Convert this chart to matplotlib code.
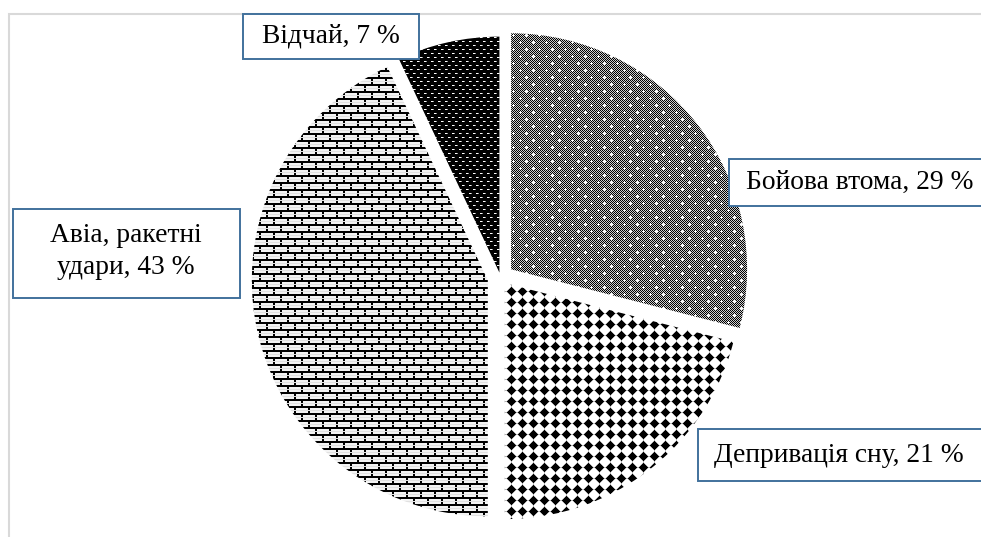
import numpy as np
import matplotlib

matplotlib.use("Agg")
import matplotlib.pyplot as plt
from matplotlib.patches import Rectangle

W, H = 981, 537

# Причини стресу, частка відповідей (%)
labels = ["Бойова втома", "Депривація сну", "Авіа, ракетні\nудари", "Відчай"]
values = [29, 21, 43, 7]
# pie() shifts each slice by this many data units (= pixels here)
explode = [13.4, 7.1, 13.0, 5.0]

# label boxes in pixel coordinates from the top-left: (x0, y0, x1, y1)
boxes = [
    (728, 159, 990, 206),
    (697, 429, 990, 481),
    (12, 209, 239, 298),
    (242, 14, 418, 59),
]
text_pos = [
    (745, 183, "left"),
    (714, 456, "left"),
    (125, 252, "center"),
    (330, 37, "center"),
]


def texture_gray_dots():
    y, x = np.mgrid[0:H, 0:W]
    img = np.where((x + y) % 2 == 0, 0.0, 0.8)
    on = (((y % 14) == 0) & ((x % 13) == 0)) | (((y % 14) == 7) & ((x % 13) == 6))
    img[on] = 1.0
    for dy, dx in [(0, 1), (0, -1), (1, 0), (-1, 0)]:
        img[np.roll(np.roll(on, dy, axis=0), dx, axis=1)] = 1.0
    return img


def texture_diamonds():
    y, x = np.mgrid[0:H, 0:W]
    p = 11
    dx = np.abs((x % p) - p // 2)
    dy = np.abs((y % p) - p // 2)
    d = dx + dy
    img = np.ones((H, W))
    img[d <= 4] = 0.0
    img[d == 5] = 0.7
    return img


def texture_bricks():
    y, x = np.mgrid[0:H, 0:W]
    img = np.full((H, W), 0.95)
    row = y // 7
    img[(y % 7) < 2] = 0.0
    shift = np.where(row % 2 == 0, 0, 7)
    img[((x + shift) % 14) < 2] = 0.0
    img[(y % 7) == 4] = 0.88
    return img


def texture_dark_dashes():
    y, x = np.mgrid[0:H, 0:W]
    img = np.zeros((H, W))
    shift = np.where((y // 4) % 2 == 0, 0, 3)
    col = (x + shift) % 7
    img[((y % 4) == 1) & (col < 2)] = 1.0
    img[((y % 4) == 1) & (col == 2)] = 0.6
    return img


textures = [texture_gray_dots(), texture_diamonds(), texture_bricks(), texture_dark_dashes()]

fig = plt.figure(figsize=(W / 100, H / 100), dpi=100)
ax = fig.add_axes([0, 0, 1, 1])

wedges, _ = ax.pie(
    values,
    explode=explode,
    startangle=90,
    counterclock=False,
    center=(500, H - 278),
    radius=236,
    wedgeprops=dict(facecolor="none", linewidth=0),
)

for wedge, tex in zip(wedges, textures):
    im = ax.imshow(
        tex,
        cmap="gray",
        vmin=0,
        vmax=1,
        extent=(-0.5, W - 0.5, -0.5, H - 0.5),
        origin="upper",
        interpolation="nearest",
        zorder=1,
    )
    im.set_clip_path(wedge)

ax.set_xlim(-0.5, W - 0.5)
ax.set_ylim(-0.5, H - 0.5)
ax.set_aspect("auto")
ax.axis("off")

# chart area border
ax.add_patch(Rectangle((8, -20), W + 20, H - 14 + 20, fill=False,
                       edgecolor="#d9d9d9", linewidth=1.5, zorder=0))

for lab, val, (x0, y0, x1, y1), (tx, ty, ha) in zip(labels, values, boxes, text_pos):
    ax.add_patch(Rectangle((x0, H - y1), x1 - x0, y1 - y0, facecolor="white",
                           edgecolor="#41719c", linewidth=1.4, zorder=3))
    ax.text(tx, H - ty, f"{lab}, {val} %", ha=ha, va="center", ma="center",
            fontsize=19.8, family="Liberation Serif", color="black", zorder=4,
            linespacing=1.35)

fig.savefig("out.png", dpi=100)
